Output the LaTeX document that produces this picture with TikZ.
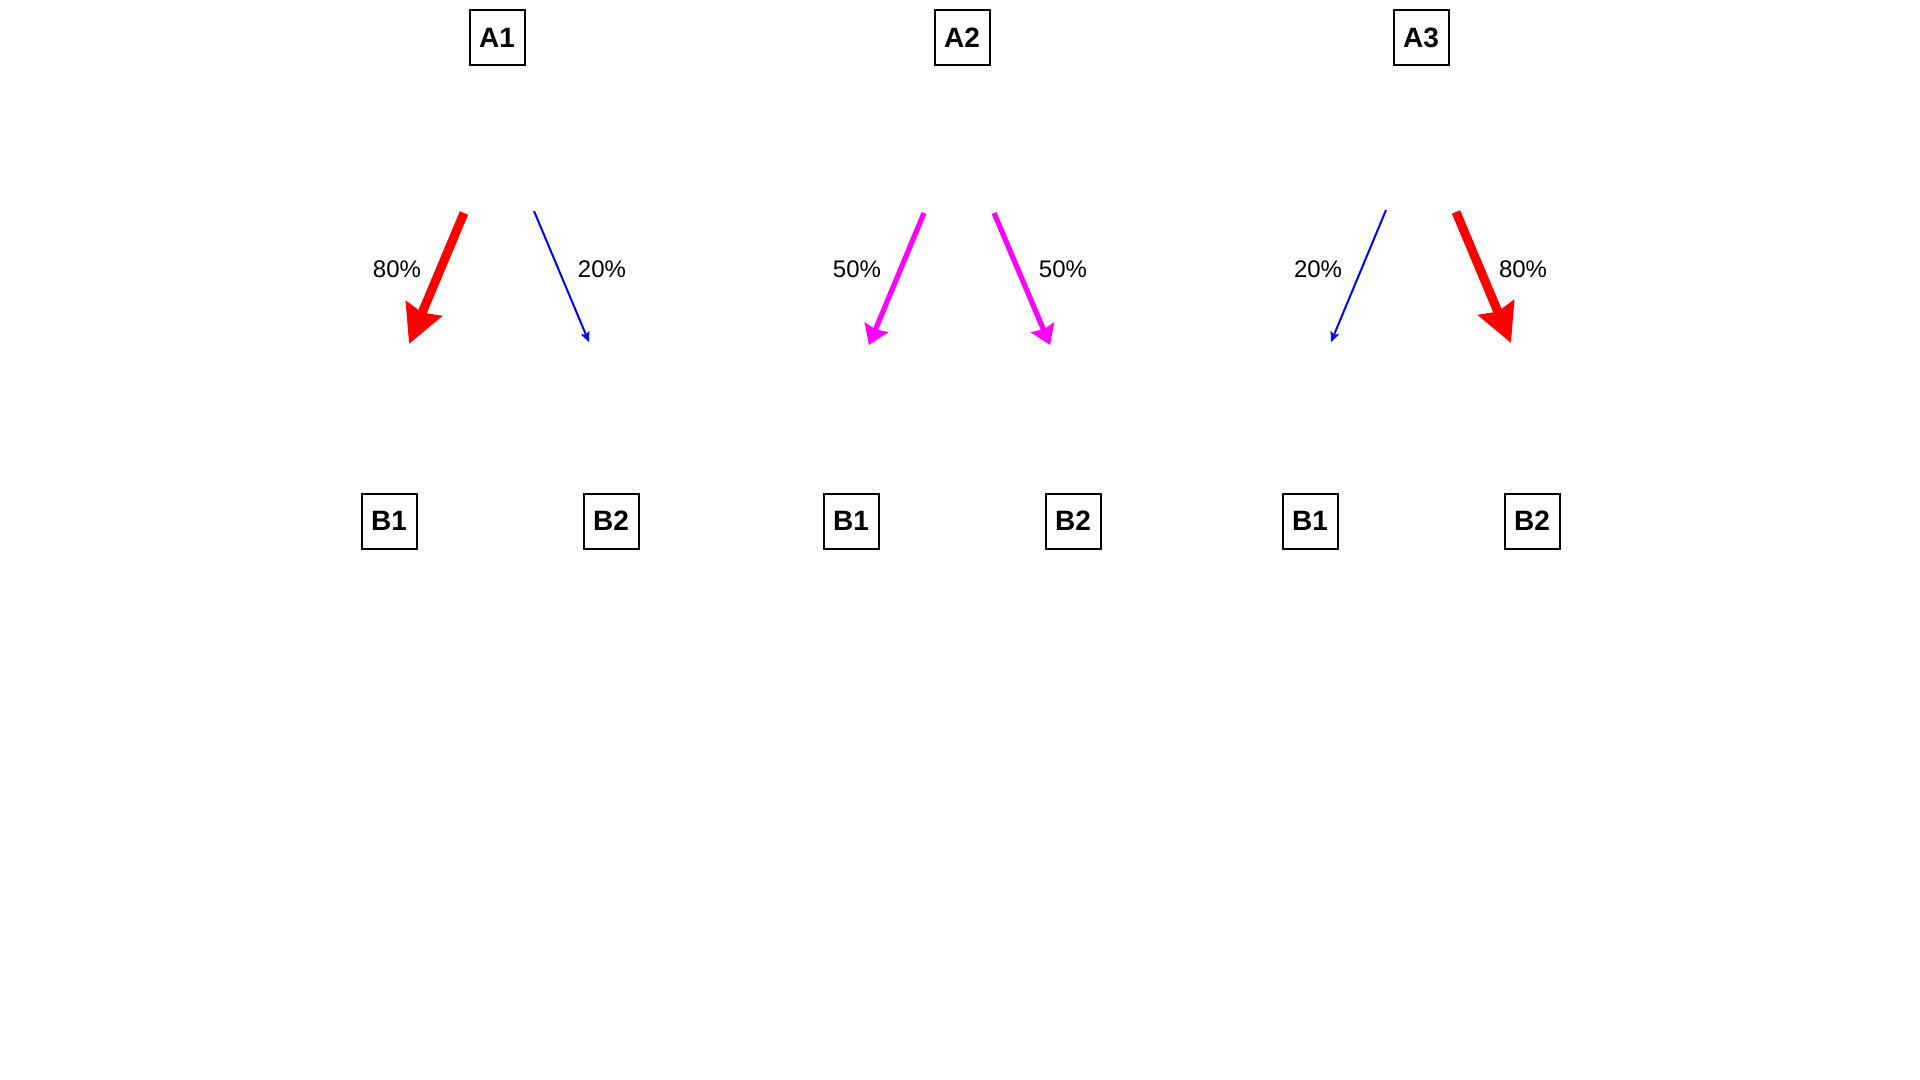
\documentclass[tikz,border=0pt]{standalone}
\usepackage{fontspec}
\setmainfont{Liberation Sans}
\usetikzlibrary{arrows.meta}
\definecolor{pmag}{RGB}{255,0,255}
\definecolor{pred}{RGB}{255,0,0}
\definecolor{pblue}{RGB}{0,0,255}
\begin{document}
\begin{tikzpicture}[x=0.5pt,y=-0.5pt,
  boxnode/.style={draw=black,line width=1pt,minimum width=27.5pt,minimum height=27.5pt,inner sep=0pt,font=\fontsize{14pt}{16pt}\selectfont\bfseries},
  pct/.style={font=\fontsize{12pt}{14pt}\selectfont,inner sep=0pt},
  strong/.style={draw=pred,line width=4.5pt,-{Stealth[length=19pt,width=19pt,inset=2pt]}},
  medium/.style={draw=pmag,line width=2.6pt,-{Stealth[length=9.5pt,width=12.5pt,inset=1pt]}},
  weak/.style={draw=pblue,line width=1pt,-{Stealth[length=5pt,width=4.5pt,inset=1pt]}}]
\useasboundingbox[fill=white] (0,0) rectangle (1920,1080);
% boxes
\node[boxnode] (A1) at (497,38) {A1};
\node[boxnode] (A2) at (962,38) {A2};
\node[boxnode] (A3) at (1421,38) {A3};
\node[boxnode] (B11) at (389,521) {B1};
\node[boxnode] (B12) at (611,521) {B2};
\node[boxnode] (B21) at (851,521) {B1};
\node[boxnode] (B22) at (1073,521) {B2};
\node[boxnode] (B31) at (1310,521) {B1};
\node[boxnode] (B32) at (1532,521) {B2};
% arrow end points
\coordinate (s11) at (464,213); \coordinate (e11) at (409,344);
\coordinate (s12) at (534,211); \coordinate (e12) at (589,342);
\coordinate (s21) at (924,213); \coordinate (e21) at (869,345);
\coordinate (s22) at (994,213); \coordinate (e22) at (1050,345);
\coordinate (s31) at (1386,210); \coordinate (e31) at (1331,342);
\coordinate (s32) at (1456,212); \coordinate (e32) at (1511,343);
\draw[strong] (s11) -- (e11);
\draw[weak] (s12) -- (e12);
\draw[medium] (s21) -- (e21);
\draw[medium] (s22) -- (e22);
\draw[weak] (s31) -- (e31);
\draw[strong] (s32) -- (e32);
% labels
\node[pct] (l11) at (397,269) {80\%};
\node[pct] (l12) at (602,269) {20\%};
\node[pct] (l21) at (857,269) {50\%};
\node[pct] (l22) at (1063,269) {50\%};
\node[pct] (l31) at (1318,269) {20\%};
\node[pct] (l32) at (1523,269) {80\%};
\end{tikzpicture}
\end{document}
